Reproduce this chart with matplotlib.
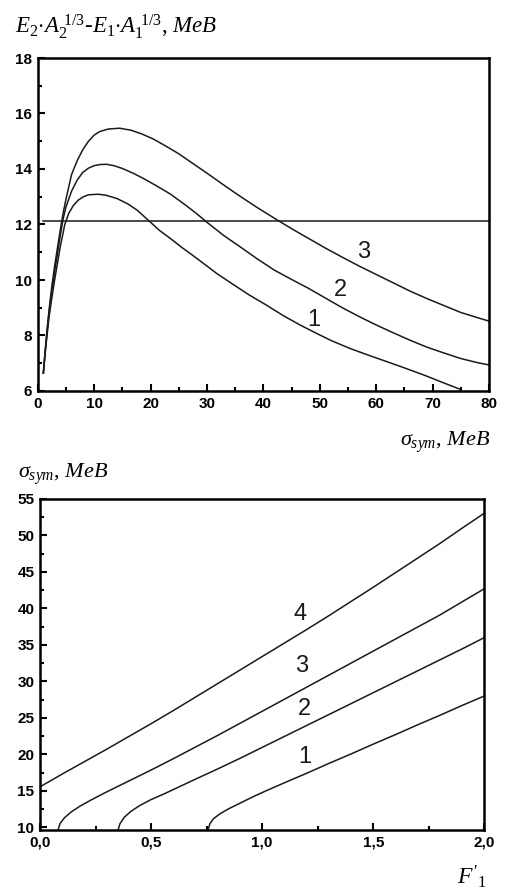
import matplotlib
matplotlib.use("Agg")
import matplotlib.pyplot as plt
from matplotlib.ticker import MultipleLocator, FuncFormatter

# ---------------- data: top panel ----------------
top_x1 = [1.0, 1.3, 1.6, 2.0, 2.5, 3.0, 3.5, 4.0, 4.8, 5.5, 6.3, 7.2, 8.1, 9.0,
          10.7, 12.0, 14.0, 16.0, 17.6, 19.9, 21.5, 23.5, 25.5, 27.0, 29.5, 31.7,
          34.5, 37.5, 40.5, 43.5, 46.5, 49.4, 52.0, 55.4, 58.5, 61.3, 64.5, 68.4,
          71.5, 74.9]
top_y1 = [6.64, 7.3, 7.9, 8.65, 9.35, 10.0, 10.6, 11.2, 12.0, 12.4, 12.68, 12.88,
          13.0, 13.07, 13.09, 13.06, 12.94, 12.74, 12.52, 12.1, 11.8, 11.5, 11.18,
          10.96, 10.58, 10.24, 9.86, 9.46, 9.1, 8.72, 8.38, 8.08, 7.82, 7.53, 7.3,
          7.1, 6.87, 6.58, 6.33, 6.06]
top_x2 = [1.0, 1.3, 1.6, 2.0, 2.5, 3.0, 3.5, 4.0, 4.5, 5.0, 6.0, 7.0, 8.0, 9.0,
          10.0, 11.0, 12.2, 13.5, 15.0, 17.0, 19.0, 21.0, 23.5, 26.0, 28.0, 30.0,
          33.0, 36.0, 39.0, 42.0, 45.0, 48.0, 51.0, 54.0, 57.0, 60.0, 63.0, 66.0,
          69.0, 72.0, 75.0, 78.0, 80.0]
top_y2 = [6.64, 7.35, 8.0, 8.8, 9.6, 10.3, 10.95, 11.6, 12.2, 12.62, 13.2, 13.6,
          13.88, 14.03, 14.12, 14.16, 14.17, 14.12, 14.02, 13.84, 13.63, 13.4, 13.1,
          12.73, 12.42, 12.08, 11.6, 11.18, 10.75, 10.35, 10.02, 9.7, 9.35, 9.0,
          8.68, 8.38, 8.1, 7.83, 7.58, 7.37, 7.17, 7.02, 6.94]
top_x3 = [1.0, 1.3, 1.6, 2.0, 2.5, 3.0, 3.5, 4.0, 4.5, 5.0, 6.0, 7.0, 8.0, 9.0,
          10.0, 11.0, 12.5, 14.5, 16.5, 18.5, 20.5, 22.5, 25.0, 27.5, 30.0, 33.0,
          36.0, 39.0, 42.0, 45.0, 48.0, 51.0, 54.0, 57.0, 60.0, 63.0, 66.0, 69.0,
          72.0, 75.0, 78.0, 80.0]
top_y3 = [6.64, 7.4, 8.08, 8.9, 9.76, 10.5, 11.15, 11.8, 12.4, 12.9, 13.8, 14.3,
          14.7, 15.0, 15.22, 15.35, 15.44, 15.47, 15.4, 15.26, 15.08, 14.85, 14.55,
          14.2, 13.85, 13.42, 13.0, 12.6, 12.22, 11.85, 11.5, 11.15, 10.82, 10.5,
          10.2, 9.9, 9.6, 9.33, 9.08, 8.83, 8.64, 8.52]
top_hline_y = 12.12
top_hline_x = [1.0, 80.0]
top_labels = ["1", "2", "3"]
top_label_x = [48.9, 53.6, 57.7]
top_label_y = [8.56, 9.64, 11.02]

# ---------------- data: bottom panel ----------------
bot_x1 = [0.757, 0.765, 0.78, 0.81, 0.85, 0.9, 0.96, 1.01, 1.1, 1.2, 1.3, 1.4,
          1.5, 1.6, 1.7, 1.8, 1.9, 2.0]
bot_y1 = [9.7, 10.5, 11.15, 11.85, 12.55, 13.3, 14.2, 14.9, 16.1, 17.4, 18.75,
          20.05, 21.4, 22.7, 24.05, 25.35, 26.7, 28.0]
bot_x2 = [0.352, 0.36, 0.38, 0.41, 0.45, 0.5, 0.56, 0.63, 0.7, 0.8, 0.9, 1.0,
          1.1, 1.2, 1.3, 1.4, 1.5, 1.6, 1.7, 1.8, 1.9, 2.0]
bot_y2 = [9.7, 10.5, 11.4, 12.2, 13.0, 13.8, 14.6, 15.6, 16.6, 18.0, 19.45,
          20.95, 22.45, 23.95, 25.45, 26.95, 28.45, 29.95, 31.45, 32.95, 34.45, 36.0]
bot_x3 = [0.082, 0.09, 0.11, 0.14, 0.18, 0.23, 0.3, 0.4, 0.5, 0.6, 0.7, 0.8,
          0.9, 1.0, 1.1, 1.2, 1.3, 1.4, 1.5, 1.6, 1.7, 1.8, 1.9, 2.0]
bot_y3 = [9.7, 10.5, 11.3, 12.1, 12.9, 13.75, 14.85, 16.35, 17.85, 19.4, 21.0,
          22.6, 24.25, 25.9, 27.55, 29.2, 30.85, 32.5, 34.15, 35.8, 37.45, 39.1,
          40.9, 42.7]
bot_x4 = [0.0, 0.1, 0.2, 0.3, 0.4, 0.5, 0.6, 0.7, 0.8, 0.9, 1.0, 1.1, 1.2, 1.3,
          1.4, 1.5, 1.6, 1.7, 1.8, 1.9, 2.0]
bot_y4 = [15.55, 17.3, 19.0, 20.7, 22.45, 24.2, 26.0, 27.85, 29.7, 31.55, 33.4,
          35.25, 37.1, 39.0, 40.95, 42.9, 44.9, 46.9, 48.9, 51.0, 53.05]
bot_labels = ["1", "2", "3", "4"]
bot_label_x = [1.19, 1.19, 1.18, 1.17]
bot_label_y = [19.6, 26.2, 32.1, 39.2]

# ---------------- style ----------------
plt.rcParams["font.family"] = ["Liberation Sans", "DejaVu Sans"]
plt.rcParams["font.weight"] = "bold"
plt.rcParams["mathtext.fontset"] = "custom"
plt.rcParams["mathtext.rm"] = "Liberation Serif:weight=normal"
plt.rcParams["mathtext.it"] = "Liberation Serif:style=italic:weight=normal"
plt.rcParams["mathtext.bf"] = "Liberation Serif:weight=bold"

W, H = 508, 891
fig = plt.figure(figsize=(W / 100, H / 100), dpi=100)
ink = "#1a1a1a"

def style_axes(ax):
    for s in ax.spines.values():
        s.set_linewidth(1.8)
    ax.tick_params(which="both", direction="in", top=False, right=False,
                   width=1.5, labelsize=11, pad=4)
    ax.tick_params(which="major", length=5)
    ax.tick_params(which="minor", length=3)

lw = 1.1
# top axes
ax1 = fig.add_axes([37.7 / W, 1 - 391 / H, (489 - 37.7) / W, 333 / H])
ax1.plot(top_x1, top_y1, color=ink, lw=lw)
ax1.plot(top_x2, top_y2, color=ink, lw=lw)
ax1.plot(top_x3, top_y3, color=ink, lw=lw)
ax1.plot(top_hline_x, [top_hline_y, top_hline_y], color=ink, lw=lw)
for t, x, y in zip(top_labels, top_label_x, top_label_y):
    ax1.text(x, y, t, fontsize=17, ha="center", va="center", color=ink,
             fontweight="normal")
ax1.set_xlim(0, 80)
ax1.set_ylim(6, 18)
ax1.xaxis.set_major_locator(MultipleLocator(10))
ax1.xaxis.set_minor_locator(MultipleLocator(5))
ax1.yaxis.set_major_locator(MultipleLocator(2))
ax1.yaxis.set_minor_locator(MultipleLocator(1))
style_axes(ax1)

# bottom axes
ax2 = fig.add_axes([40 / W, 1 - 830 / H, (484.3 - 40) / W, (830 - 499) / H])
ax2.plot(bot_x1, bot_y1, color=ink, lw=lw)
ax2.plot(bot_x2, bot_y2, color=ink, lw=lw)
ax2.plot(bot_x3, bot_y3, color=ink, lw=lw)
ax2.plot(bot_x4, bot_y4, color=ink, lw=lw)
for t, x, y in zip(bot_labels, bot_label_x, bot_label_y):
    ax2.text(x, y, t, fontsize=17, ha="center", va="center", color=ink,
             fontweight="normal")
ax2.set_xlim(0, 2.0)
ax2.set_ylim(9.63, 55)
ax2.xaxis.set_major_locator(MultipleLocator(0.5))
ax2.xaxis.set_minor_locator(MultipleLocator(0.25))
ax2.yaxis.set_major_locator(MultipleLocator(5))
ax2.yaxis.set_minor_locator(MultipleLocator(2.5))
ax2.xaxis.set_major_formatter(FuncFormatter(lambda v, p: f"{v:.1f}".replace(".", ",")))
style_axes(ax2)

# axis titles
fig.text(15 / W, 1 - 33 / H,
         r"$\mathit{E_2{\cdot}A_2^{\ 1/3}}$-$\mathit{E_1{\cdot}A_1^{\ 1/3}}$, $\mathit{MeB}$",
         fontsize=16.5, ha="left", va="baseline", family="Liberation Serif",
         fontweight="normal")
fig.text(490 / W, 1 - 446 / H, r"$\sigma_{\mathit{sym}}$, $\mathit{MeB}$",
         fontsize=16, ha="right", va="baseline", family="Liberation Serif",
         fontweight="normal")
fig.text(18 / W, 1 - 478 / H, r"$\sigma_{\mathit{sym}}$, $\mathit{MeB}$",
         fontsize=16, ha="left", va="baseline", family="Liberation Serif",
         fontweight="normal")
fig.text(487 / W, 1 - 884 / H, r"$\mathit{F'_1}$",
         fontsize=17, ha="right", va="baseline", family="Liberation Serif",
         fontweight="normal")

fig.savefig("out.png", dpi=100, facecolor="white")
